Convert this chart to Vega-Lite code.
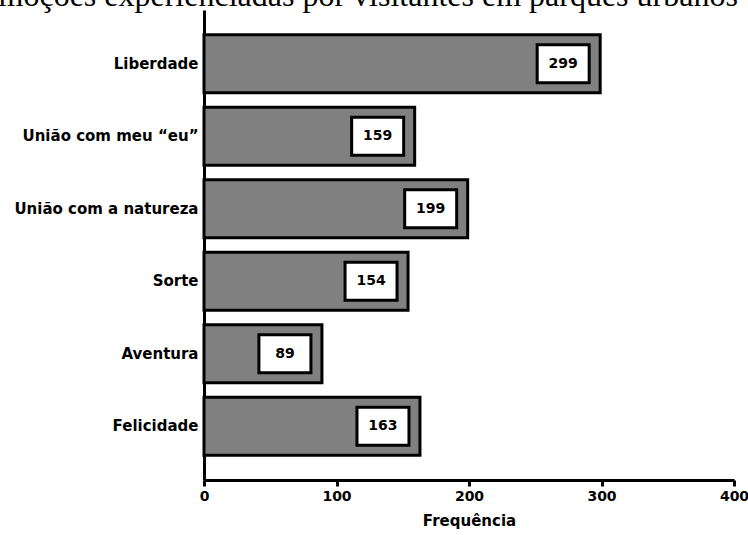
{
  "$schema": "https://vega.github.io/schema/vega-lite/v6.json",
  "width": 530,
  "height": 470,
  "autosize": {"type": "none"},
  "padding": {"left": 204, "top": 10, "right": 14, "bottom": 55},
  "title": {
    "text": "Emoções experienciadas por visitantes em parques urbanos",
    "font": "Liberation Serif",
    "fontSize": 32,
    "fontWeight": "normal",
    "color": "black",
    "anchor": "start",
    "frame": "group",
    "dx": -225,
    "dy": 28,
    "baseline": "alphabetic",
    "offset": 0
  },
  "config": {
    "view": {"stroke": null},
    "axis": {
      "domainColor": "black",
      "domainWidth": 3,
      "tickColor": "black",
      "tickWidth": 3,
      "labelFont": "DejaVu Sans",
      "labelFontWeight": "bold",
      "labelColor": "black",
      "titleFont": "DejaVu Sans",
      "titleFontWeight": "bold",
      "titleColor": "black",
      "grid": false
    }
  },
  "data": {
    "values": [
      {"emocao": "Liberdade", "frequencia": 299},
      {"emocao": "União com meu “eu”", "frequencia": 159},
      {"emocao": "União com a natureza", "frequencia": 199},
      {"emocao": "Sorte", "frequencia": 154},
      {"emocao": "Aventura", "frequencia": 89},
      {"emocao": "Felicidade", "frequencia": 163}
    ]
  },
  "encoding": {
    "y": {
      "field": "emocao",
      "type": "nominal",
      "sort": null,
      "scale": {"paddingInner": 0.2, "paddingOuter": 0.34},
      "axis": {
        "title": null,
        "ticks": false,
        "labelFontSize": 15,
        "labelPadding": 6,
        "labelLimit": 0
      }
    }
  },
  "layer": [
    {
      "mark": {"type": "bar", "fill": "#808080", "stroke": "black", "strokeWidth": 3},
      "encoding": {
        "x": {
          "field": "frequencia",
          "type": "quantitative",
          "scale": {"domain": [0, 400], "nice": false},
          "axis": {
            "title": "Frequência",
            "titleFontSize": 15,
            "titlePadding": 10,
            "values": [0, 100, 200, 300, 400],
            "tickSize": 6,
            "labelFontSize": 14,
            "labelPadding": 3,
            "labelFlush": false
          }
        }
      }
    },
    {
      "mark": {
        "type": "bar",
        "fill": "white",
        "stroke": "black",
        "strokeWidth": 3,
        "height": 38,
        "xOffset": -63,
        "x2Offset": -11
      },
      "encoding": {
        "x": {"field": "frequencia", "type": "quantitative"},
        "x2": {"field": "frequencia"}
      }
    },
    {
      "mark": {
        "type": "text",
        "font": "DejaVu Sans",
        "fontWeight": "bold",
        "fontSize": 14,
        "color": "black",
        "dx": -37,
        "align": "center",
        "baseline": "middle"
      },
      "encoding": {
        "x": {"field": "frequencia", "type": "quantitative"},
        "text": {"field": "frequencia", "type": "quantitative"}
      }
    }
  ]
}
